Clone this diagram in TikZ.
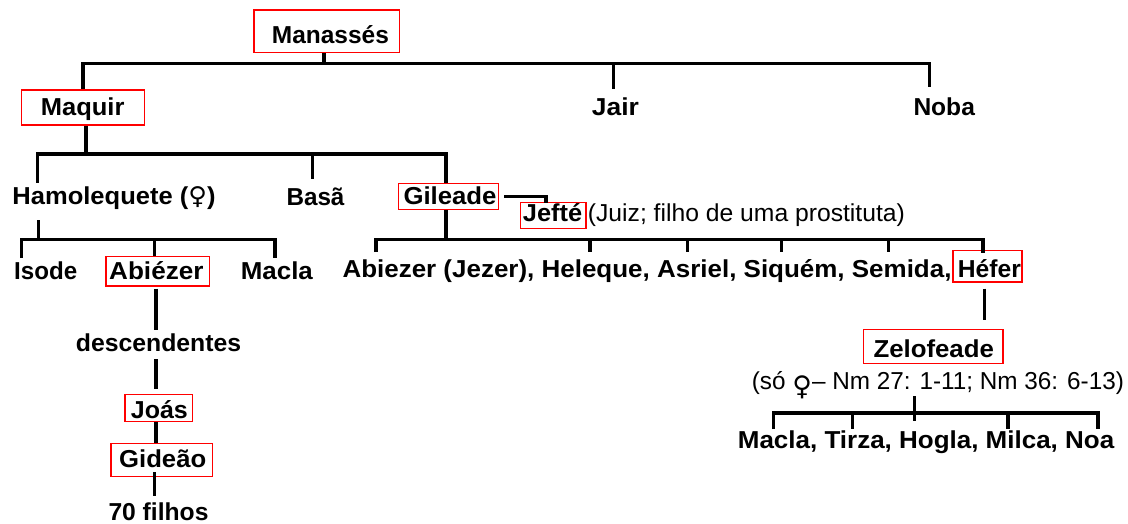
\documentclass[tikz,border=0pt]{standalone}
\usepackage{fontspec}
\setmainfont{Liberation Sans}
\newfontfamily\symf{DejaVu Sans}
\usepackage{graphicx}
\newcommand\fitto[2]{\resizebox{#1pt}{\height}{#2}}
\tikzset{
  ln/.style={line width=3.2pt, black},
  rbox/.style={draw=red, line width=1.3pt, inner sep=0pt},
  bt/.style={font=\fontsize{24.5}{28}\selectfont\bfseries, inner sep=0pt, anchor=base west},
  rt/.style={font=\fontsize{24.5}{28}\selectfont, inner sep=0pt, anchor=base west}
}
\begin{document}
\begin{tikzpicture}[x=1pt,y=-1pt]
\useasboundingbox[fill=white] (0,0) rectangle (1128,524);
% red boxes
\node[rbox, minimum width=145.3pt, minimum height=42.7pt] (manB) at (326.7,31.35) {};
\node[rbox, minimum width=122.6pt, minimum height=35pt] (maqB) at (83,107.5) {};
\node[rbox, minimum width=100pt, minimum height=26pt] (gilB) at (448.7,196.3) {};
\node[rbox, minimum width=65.7pt, minimum height=26pt] (jefB) at (553.2,215.3) {};
\node[rbox, minimum width=103.3pt, minimum height=29.3pt] (abiB) at (157.7,271.3) {};
\node[rbox, minimum width=69pt, minimum height=31.3pt] (hefB) at (987.5,266.3) {};
\node[rbox, minimum width=139.3pt, minimum height=34.4pt] (zelB) at (933.3,346.5) {};
\node[rbox, minimum width=67.3pt, minimum height=27pt] (joaB) at (158.7,407.8) {};
\node[rbox, minimum width=101.7pt, minimum height=32.6pt] (gidB) at (161.8,460) {};
% texts
\node[bt] (man) at (271.7,44) {\fitto{117}{Manassés}};
\node[bt] (maq) at (40.7,116) {\fitto{83.6}{Maquir}};
\node[bt] (jair) at (591.7,116) {\fitto{47}{Jair}};
\node[bt] (noba) at (913.3,116) {\fitto{61.4}{Noba}};
\node[bt] (ham) at (12.3,205) {\fitto{203}{Hamolequete ({\symf\mdseries ♀})}};
\node[bt] (bas) at (286.3,205) {\fitto{58}{Basã}};
\node[bt] (gil) at (403.3,204.5) {\fitto{93}{Gileade}};
\node[bt] (jef) at (522.7,222) {\fitto{59.3}{Jefté}};
\node[rt] (juiz) at (587.7,222) {\fitto{317}{(Juiz; filho de uma prostituta)}};
\node[bt] (iso) at (14,279.5) {\fitto{63}{Isode}};
\node[bt] (abi) at (109,279.5) {\fitto{94.3}{Abiézer}};
\node[bt] (mac) at (240.7,279.5) {\fitto{72}{Macla}};
\node[bt] (fil) at (342.3,277) {\fitto{609}{Abiezer (Jezer), Heleque, Asriel, Siquém, Semida,}};
\node[bt] (hef) at (957.7,277) {\fitto{63}{Héfer}};
\node[bt] (desc) at (75.7,351) {\fitto{165.3}{descendentes}};
\node[bt] (joa) at (130.7,418) {\fitto{57}{Joás}};
\node[bt] (gid) at (119,467.7) {\fitto{87}{Gideão}};
\node[bt] (setenta) at (108.3,520) {\fitto{100}{70 filhos}};
\node[bt] (zel) at (873.3,357) {\fitto{120.4}{Zelofeade}};
\node[rt] (so) at (751.7,389) {\fitto{372}{(só {\symf\fontsize{27}{30}\selectfont\raisebox{-6pt}{♀}}– Nm 27: 1-11; Nm 36: 6-13)}};
\node[bt] (filhas) at (737.7,448.7) {\fitto{376.3}{Macla, Tirza, Hogla, Milca, Noa}};
% bus levels and free ends
\coordinate (m1) at (324,63.3);
\coordinate (jairT) at (613.3,89);
\coordinate (nobaT) at (929.7,87.3);
\coordinate (m2) at (86,154);
\coordinate (hamT) at (37.7,182.7);
\coordinate (basT) at (312.3,179);
\coordinate (jefT) at (546,202.7);
\coordinate (hamD) at (38.3,220);
\coordinate (m3) at (38.3,239.3);
\coordinate (isoT) at (21.7,258);
\coordinate (macT) at (275,258);
\coordinate (m4) at (446,239.3);
\coordinate (g1) at (376,252);
\coordinate (g2) at (590,252);
\coordinate (g3) at (687.7,252);
\coordinate (g4) at (781.3,252);
\coordinate (g5) at (888.7,252);
\coordinate (g6) at (983,253);
\coordinate (h1) at (984.7,288.7);
\coordinate (h2) at (984.7,320.3);
\coordinate (a1) at (156,288.7);
\coordinate (a2) at (156,330.3);
\coordinate (a3) at (156,359.3);
\coordinate (a4) at (156,389.3);
\coordinate (d1) at (154.3,472);
\coordinate (d2) at (154.3,496.3);
\coordinate (z1) at (914.7,396);
\coordinate (z2) at (914.7,421.3);
\coordinate (m5) at (914.7,413);
\coordinate (f1) at (773.7,429);
\coordinate (f2) at (852.7,429);
\coordinate (f4) at (1008,429);
\coordinate (f5) at (1098,429);
% connectors
\draw[ln] (manB.south -| m1) -- (m1);
\draw[ln] (maqB.north) |- (nobaT |- m1) -- (nobaT);
\draw[ln] (jairT |- m1) -- (jairT);
\draw[ln] (maqB.south -| m2) -- (m2);
\draw[ln] (hamT) |- (m4 |- m2) -- (m4 |- gilB.north);
\draw[ln] (basT |- m2) -- (basT);
\draw[ln] ([xshift=5pt]gilB.east) -| (jefT);
\draw[ln] (hamD) -- (m3);
\draw[ln] (isoT) |- (macT |- m3) -- (macT);
\draw[ln] (m3 -| 154.3,0) -- (abiB.north -| 154.3,0);
\draw[ln] (gilB.south -| m4) -- (m4);
\draw[ln] (g1) |- (g6 |- m4) -- (g6);
\foreach \g in {g2,g3,g4,g5} \draw[ln] (\g |- m4) -- (\g);
\draw[ln] (h1) -- (h2);
\draw[ln] (a1) -- (a2);
\draw[ln] (a3) -- (a4);
\draw[ln] (joaB.south -| a1) -- (gidB.north -| a1);
\draw[ln] (d1) -- (d2);
\draw[ln] (z1) -- (z2);
\draw[ln] (f1) |- (f5 |- m5) -- (f5);
\draw[ln] (f2 |- m5) -- (f2);
\draw[ln] (f4 |- m5) -- (f4);
\end{tikzpicture}
\end{document}
